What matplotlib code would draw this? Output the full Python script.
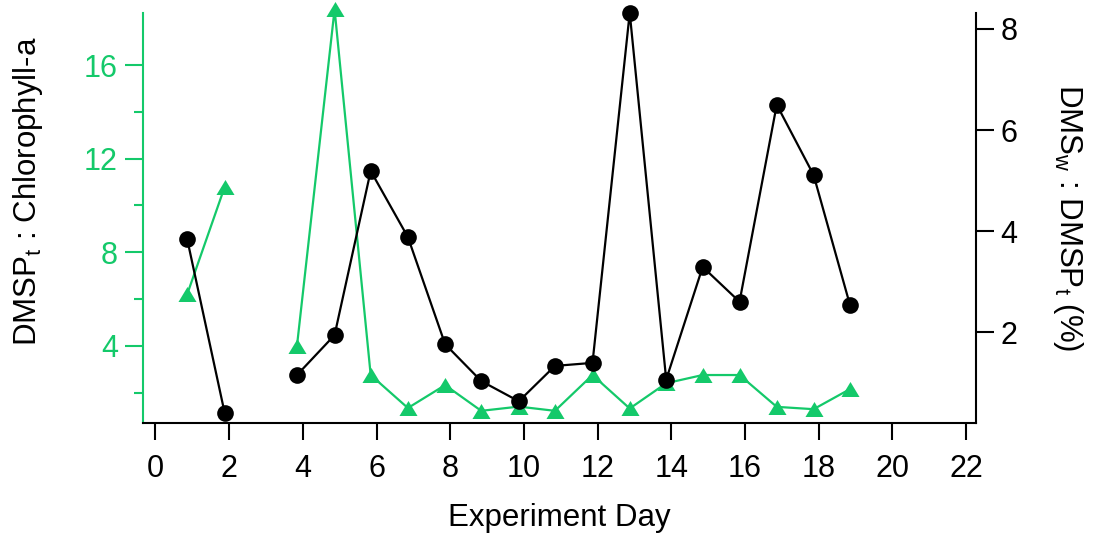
import numpy as np
import matplotlib
matplotlib.use("Agg")
import matplotlib.pyplot as plt
from matplotlib.ticker import FixedLocator

plt.rcParams['font.family'] = ['Liberation Sans', 'DejaVu Sans']
plt.rcParams['mathtext.default'] = 'regular'

# experiment days (sampling times, slightly before the whole day)
days = [0.86, 1.88, 2.87, 3.84, 4.86, 5.84, 6.85, 7.86, 8.84, 9.86, 10.84,
        11.86, 12.87, 13.86, 14.85, 15.85, 16.86, 17.86, 18.85]
# DMSPt : Chl-a (left axis), day 3 missing
dmsp_chl = [6.2, 10.8, np.nan, 4.0, 18.38, 2.75, 1.34, 2.32, 1.22, 1.4, 1.22,
            2.75, 1.32, 2.4, 2.75, 2.75, 1.39, 1.29, 2.15]
# DMSw : DMSPt in % (right axis)
dms_dmsp = [3.84, 0.39, np.nan, 1.15, 1.94, 5.19, 3.88, 1.76, 1.03, 0.63, 1.33,
            1.39, 8.32, 1.06, 3.29, 2.6, 6.5, 5.11, 2.53]

green = '#14c96a'
tri = [(-1, -0.83), (1, -0.83), (0, 0.83)]

fig = plt.figure(figsize=(10.93, 5.33), dpi=100)
ax = fig.add_axes([0.1308, 0.2064, 0.7619, 0.7686])
ax2 = ax.twinx()

ax.plot(days, dmsp_chl, color=green, lw=1.6, marker=tri, ms=13,
        markeredgewidth=0, clip_on=False)
ax2.plot(days, dms_dmsp, color='black', lw=1.6, marker='o', ms=12,
         markeredgewidth=0, clip_on=False)

ax.set_xlim(-0.34, 22.26)
ax.set_ylim(0.70, 18.21)
ax2.set_ylim(0.20, 8.31)

ax.set_xticks(range(0, 23, 2))
ax.set_yticks([4, 8, 12, 16])
ax.yaxis.set_minor_locator(FixedLocator([2, 6, 10, 14]))
ax2.set_yticks([2, 4, 6, 8])

for a in (ax, ax2):
    a.spines['top'].set_visible(False)
ax.spines['right'].set_visible(False)
ax2.spines['left'].set_visible(False)
ax2.spines['bottom'].set_visible(False)
ax.spines['left'].set_color(green)
ax.spines['left'].set_linewidth(1.5)
ax.spines['bottom'].set_linewidth(1.5)
ax2.spines['right'].set_linewidth(1.5)

ax.tick_params(axis='x', direction='out', length=12, width=1.5, pad=10,
               labelsize=22)
ax.tick_params(axis='y', which='major', direction='out', length=13, width=1.5,
               pad=5, labelsize=22, color=green, labelcolor=green)
ax.tick_params(axis='y', which='minor', direction='out', length=6.5,
               width=1.5, color=green)
ax2.tick_params(axis='y', direction='out', length=13, width=1.5, pad=5,
                labelsize=22)

ax.set_xlabel('Experiment Day', fontsize=22.5)
ax.xaxis.set_label_coords(0.5, -0.195)
ax.set_ylabel('DMSP$_t$ : Chlorophyll-a', fontsize=22.5)
ax.yaxis.set_label_coords(-0.118, 0.565)
ax2.set_ylabel('DMS$_w$ : DMSP$_t$ (%)', fontsize=22.5, rotation=270,
               va='center')
ax2.yaxis.set_label_coords(1.111, 0.5)

fig.savefig('out.png', dpi=100)
